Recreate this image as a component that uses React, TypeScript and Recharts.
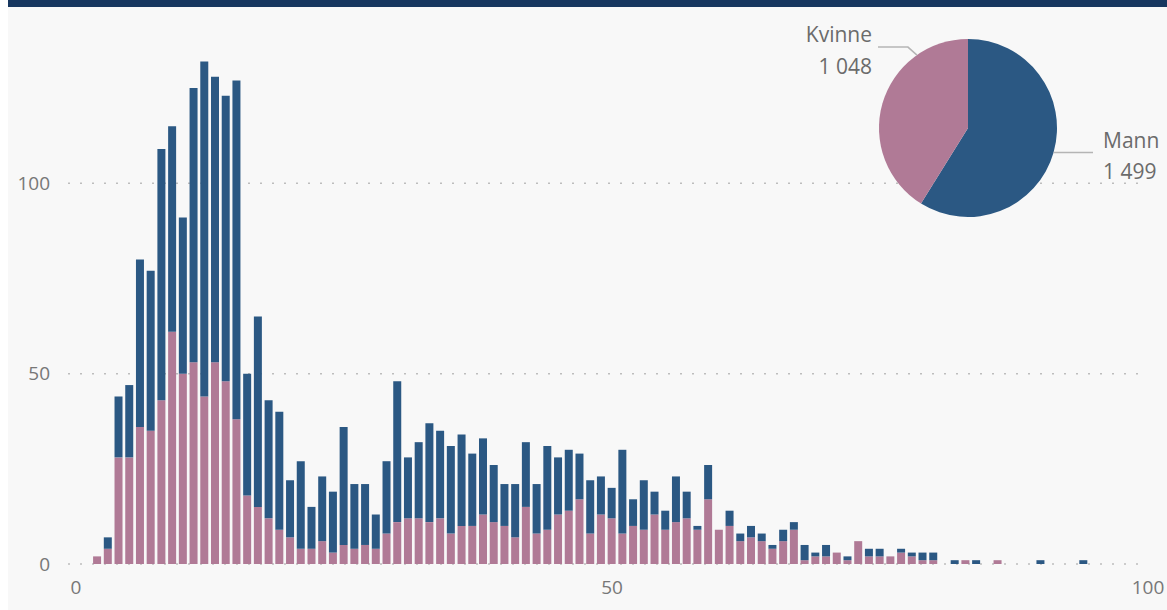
import React from 'react';
import { BarChart, Bar, XAxis, YAxis, CartesianGrid, PieChart, Pie, Cell } from 'recharts';

// Age (x) categories 0..95
const ages: number[] = Array.from({ length: 96 }, (_, i) => i);

// Kvinne (women) counts per age
const kvinne: number[] = [
  0, 0, 2, 4, 28, 28, 36, 35, 43, 61,
  50, 53, 44, 53, 48, 38, 18, 15, 12, 9,
  7, 4, 4, 6, 3, 5, 4, 5, 4, 8,
  11, 12, 12, 11, 12, 8, 10, 10, 13, 11,
  10, 7, 15, 8, 9, 13, 14, 17, 8, 13,
  12, 8, 10, 9, 13, 9, 11, 12, 9, 17,
  9, 10, 6, 7, 6, 4, 6, 9, 1, 2,
  2, 3, 1, 6, 2, 2, 2, 3, 2, 1,
  1, 0, 0, 1, 0, 0, 1, 0, 0, 0,
  0, 0, 0, 0, 0, 0,
];

// Mann (men) counts per age
const mann: number[] = [
  0, 0, 0, 3, 16, 19, 44, 42, 66, 54,
  41, 72, 88, 75, 75, 89, 32, 50, 31, 31,
  15, 23, 11, 17, 16, 31, 17, 16, 9, 19,
  37, 16, 20, 26, 23, 23, 24, 19, 20, 15,
  11, 14, 17, 13, 22, 15, 16, 12, 14, 10,
  8, 22, 7, 13, 6, 5, 12, 7, 1, 9,
  0, 4, 2, 3, 2, 1, 3, 2, 4, 1,
  3, 0, 1, 0, 2, 2, 0, 1, 1, 2,
  2, 0, 1, 0, 1, 0, 0, 0, 0, 0,
  1, 0, 0, 0, 1, 0,
];

const xTicks: number[] = [0, 50, 100];
const yTicks: number[] = [0, 50, 100];

// Pie totals
const pieNames: string[] = ['Mann', 'Kvinne'];
const pieValues: number[] = [1499, 1048];

const BLUE = '#2B5883';
const PINK = '#B07A96';
const FONT = '"Open Sans", "Noto Sans", sans-serif';

const barData = ages.map((a, i) => ({ age: a, kvinne: kvinne[i], mann: mann[i] }));
const pieData = pieNames.map((n, i) => ({ name: n, value: pieValues[i] }));
const pieColors = [BLUE, PINK];

const RAD = Math.PI / 180;
const fmt = (v: number) => String(v).replace(/\B(?=(\d{3})+(?!\d))/g, ' ');

const PieLabel = (props: any) => {
  const { cx, cy, outerRadius, midAngle, name, value } = props;
  const r = outerRadius;
  const labelStyle = { fontFamily: FONT, fontSize: 21, fill: '#6b6b6b' };
  const lineColor = '#b5b5b5';
  if (Math.cos(-midAngle * RAD) > 0) {
    const sx = cx + r * Math.cos(-midAngle * RAD);
    const sy = cy + r * Math.sin(-midAngle * RAD);
    const ex = cx + r + 36;
    return (
      <g>
        <polyline points={`${sx},${sy} ${ex},${sy}`} stroke={lineColor} strokeWidth={1.5} fill="none" />
        <text x={ex + 10} y={sy - 12} dy="0.35em" textAnchor="start" style={labelStyle}>{name}</text>
        <text x={ex + 10} y={sy + 19.5} dy="0.35em" textAnchor="start" style={labelStyle}>{fmt(value)}</text>
      </g>
    );
  }
  const a = 125;
  const sx = cx + r * Math.cos(a * RAD);
  const sy = cy - r * Math.sin(a * RAD);
  const mx = sx - 9;
  const my = sy - 8;
  const ex = cx - 90;
  return (
    <g>
      <polyline points={`${sx},${sy} ${mx},${my} ${ex},${my}`} stroke={lineColor} strokeWidth={1.5} fill="none" />
      <text x={ex - 6} y={my - 12} dy="0.35em" textAnchor="end" style={labelStyle}>{name}</text>
      <text x={ex - 6} y={my + 19.5} dy="0.35em" textAnchor="end" style={labelStyle}>{fmt(value)}</text>
    </g>
  );
};

const tickStyle = { fill: '#777', fontSize: 19, fontFamily: FONT };

export default function App() {
  return (
    <div
      style={{
        position: 'absolute',
        left: 8,
        top: 0,
        width: 1159,
        height: 610,
        background: '#f8f8f8',
        overflow: 'hidden',
      }}
    >
      <div style={{ position: 'absolute', left: 0, top: 0 }}>
        <BarChart
          width={1159}
          height={610}
          data={barData}
          margin={{ top: 31, right: 19, left: 0, bottom: 16 }}
          barSize={8}
        >
          <CartesianGrid
            horizontal
            vertical={false}
            horizontalValues={yTicks}
            stroke="#bdbdbd"
            strokeDasharray="2 10"
            strokeWidth={1.5}
          />
          <XAxis
            dataKey="age"
            type="number"
            domain={[0, 100]}
            ticks={xTicks}
            interval={0}
            axisLine={false}
            tickLine={false}
            tickSize={0}
            tickMargin={17}
            height={30}
            padding={{ left: 8, right: 0 }}
            tick={tickStyle}
          />
          <YAxis
            domain={[0, 140]}
            ticks={yTicks}
            width={60}
            axisLine={false}
            tickLine={false}
            tickSize={0}
            tickMargin={18}
            tick={tickStyle}
          />
          <Bar dataKey="kvinne" stackId="a" fill={PINK} isAnimationActive={false} />
          <Bar dataKey="mann" stackId="a" fill={BLUE} isAnimationActive={false} />
        </BarChart>
      </div>
      <div style={{ position: 'absolute', left: 772, top: 0 }}>
        <PieChart width={387} height={240} margin={{ top: 0, right: 0, bottom: 0, left: 0 }}>
          <Pie
            data={pieData}
            dataKey="value"
            nameKey="name"
            cx={188}
            cy={128}
            outerRadius={89}
            startAngle={90}
            endAngle={-270}
            stroke="none"
            label={PieLabel}
            labelLine={false}
            isAnimationActive={false}
          >
            {pieData.map((d, i) => (
              <Cell key={d.name} fill={pieColors[i]} />
            ))}
          </Pie>
        </PieChart>
      </div>
      <div
        style={{
          position: 'absolute',
          left: 0,
          top: 0,
          width: 1159,
          height: 7,
          background: '#17375f',
          zIndex: 5,
        }}
      />
    </div>
  );
}
